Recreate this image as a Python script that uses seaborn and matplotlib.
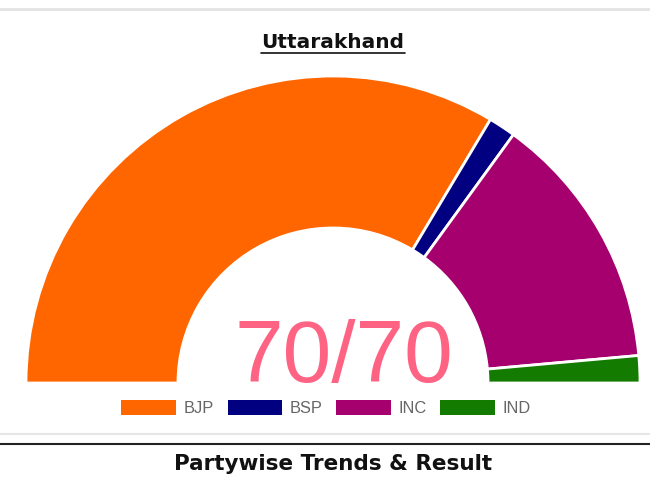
import matplotlib
matplotlib.use("Agg")
import matplotlib.pyplot as plt
from matplotlib.patches import Patch
from matplotlib.lines import Line2D
import seaborn as sns

title = "Uttarakhand"
footer = "Partywise Trends & Result"
parties = ["BJP", "BSP", "INC", "IND"]
seats = [47, 2, 19, 2]
total_seats = 70
declared = 70
colors = ["#FF6600", "#000080", "#A6006F", "#137B00"]

sns.set_style("white")
plt.rcParams["font.family"] = ["Liberation Sans", "DejaVu Sans"]

W, H = 650, 480
fig = plt.figure(figsize=(W / 100, H / 100), dpi=100)

cx, cy, R = 333, 383, 307
ax = fig.add_axes([(cx - R) / W, (H - cy - R) / H, 2 * R / W, 2 * R / H])
vals = seats + [sum(seats)]
cols = colors + ["none"]
ax.pie(vals, colors=cols, startangle=180, counterclock=False, radius=1.0,
       wedgeprops=dict(width=0.495, edgecolor="white", linewidth=2))
for w in ax.patches[-1:]:
    w.set_edgecolor("none")
ax.set_xlim(-1, 1)
ax.set_ylim(-1, 1)
ax.set_aspect("equal")
ax.axis("off")

def fy(py):
    return (H - py) / H

fig.text(344 / W, fy(382), f"{declared}/{total_seats}", ha="center", va="baseline",
         fontsize=63, color="#FF6384", family=["Liberation Sans"])

fig.text(333 / W, fy(43), title, ha="center", va="center", fontsize=14.5,
         fontweight="bold", color="#111111", family=["DejaVu Sans"])
fig.add_artist(Line2D([261 / W, 405 / W], [fy(53), fy(53)], color="#111111", lw=1.2))

fig.text(333 / W, fy(464), footer, ha="center", va="center", fontsize=15.5,
         fontweight="bold", color="#111111", family=["DejaVu Sans"])

fig.add_artist(Line2D([0, 1], [fy(9), fy(9)], color="#e3e3e3", lw=2))
fig.add_artist(Line2D([0, 1], [fy(434), fy(434)], color="#e6e6e6", lw=1.5))
fig.add_artist(Line2D([0, 1], [fy(444), fy(444)], color="#222222", lw=1.5))

handles = [Patch(facecolor=c, edgecolor="none", label=p) for p, c in zip(parties, colors)]
fig.legend(handles=handles, loc="center", bbox_to_anchor=(326 / W, fy(408)), ncol=4,
           frameon=False, fontsize=11.8, labelcolor="#666666", handlelength=3.35,
           handleheight=1.0, handletextpad=0.43, columnspacing=0.85,
           borderpad=0, borderaxespad=0)

fig.savefig("out.png", dpi=100, facecolor="white")
